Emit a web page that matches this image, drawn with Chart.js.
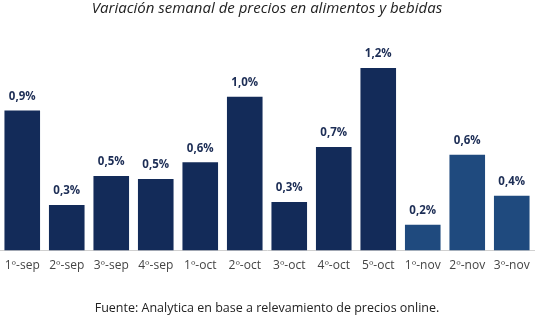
<!DOCTYPE html>
<html>
<head>
<meta charset="utf-8">
<script src="https://cdn.jsdelivr.net/npm/chart.js@4.4.0/dist/chart.umd.min.js"></script>
<style>
  html, body { margin: 0; padding: 0; background: #fff; }
  #wrap { width: 535px; height: 320px; }
</style>
</head>
<body>
<div id="wrap"><canvas id="grafico"></canvas></div>
<script>
// ===== Datos =====
const semanas = ['1º-sep', '2º-sep', '3º-sep', '4º-sep', '1º-oct', '2º-oct', '3º-oct', '4º-oct', '5º-oct', '1º-nov', '2º-nov', '3º-nov'];
const variacion = [0.92, 0.30, 0.49, 0.47, 0.58, 1.01, 0.32, 0.68, 1.20, 0.17, 0.63, 0.36];
const etiquetas = ['0,9%', '0,3%', '0,5%', '0,5%', '0,6%', '1,0%', '0,3%', '0,7%', '1,2%', '0,2%', '0,6%', '0,4%'];
const colores = ['#132b59', '#132b59', '#132b59', '#132b59', '#132b59', '#132b59', '#132b59', '#132b59', '#132b59', '#1f4a7e', '#1f4a7e', '#1f4a7e'];

const fuente = '"Open Sans", sans-serif';

// etiquetas encima de cada barra
const etiquetasBarras = {
    id: 'etiquetasBarras',
    afterDatasetsDraw(chart) {
        const ctx = chart.ctx;
        const meta = chart.getDatasetMeta(0);
        ctx.save();
        ctx.font = 'bold 11.5px ' + fuente;
        ctx.fillStyle = '#1c2d55';
        ctx.textAlign = 'center';
        ctx.textBaseline = 'middle';
        meta.data.forEach((barra, i) => {
            ctx.fillText(etiquetas[i], barra.x, barra.y - 14);
        });
        ctx.restore();
    }
};

const ctx = document.getElementById('grafico').getContext('2d');
new Chart(ctx, {
    type: 'bar',
    data: {
        labels: semanas,
        datasets: [{
            data: variacion,
            backgroundColor: colores,
            barPercentage: 0.8,
            categoryPercentage: 1.0
        }]
    },
    options: {
        responsive: true,
        maintainAspectRatio: false,
        animation: false,
        layout: { padding: { left: 0, right: 1, top: 0, bottom: 2 } },
        plugins: {
            legend: { display: false },
            tooltip: { enabled: false },
            title: {
                display: true,
                text: 'Variación semanal de precios en alimentos y bebidas',
                color: '#222',
                font: { family: fuente, size: 15, style: 'italic', weight: 'normal' },
                padding: { top: 0, bottom: 24 }
            },
            subtitle: {
                display: true,
                position: 'bottom',
                text: 'Fuente: Analytica en base a relevamiento de precios online.',
                color: '#222',
                font: { family: fuente, size: 12.5 },
                padding: { top: 28, bottom: 2 }
            }
        },
        scales: {
            x: {
                grid: { display: false },
                border: { display: true, color: '#d0d0d0', width: 1 },
                ticks: {
                    color: '#444',
                    font: { family: fuente, size: 12 },
                    maxRotation: 0,
                    autoSkip: false,
                    padding: 0
                }
            },
            y: {
                display: false,
                min: 0,
                max: 1.37
            }
        }
    },
    plugins: [etiquetasBarras]
});
</script>
</body>
</html>
